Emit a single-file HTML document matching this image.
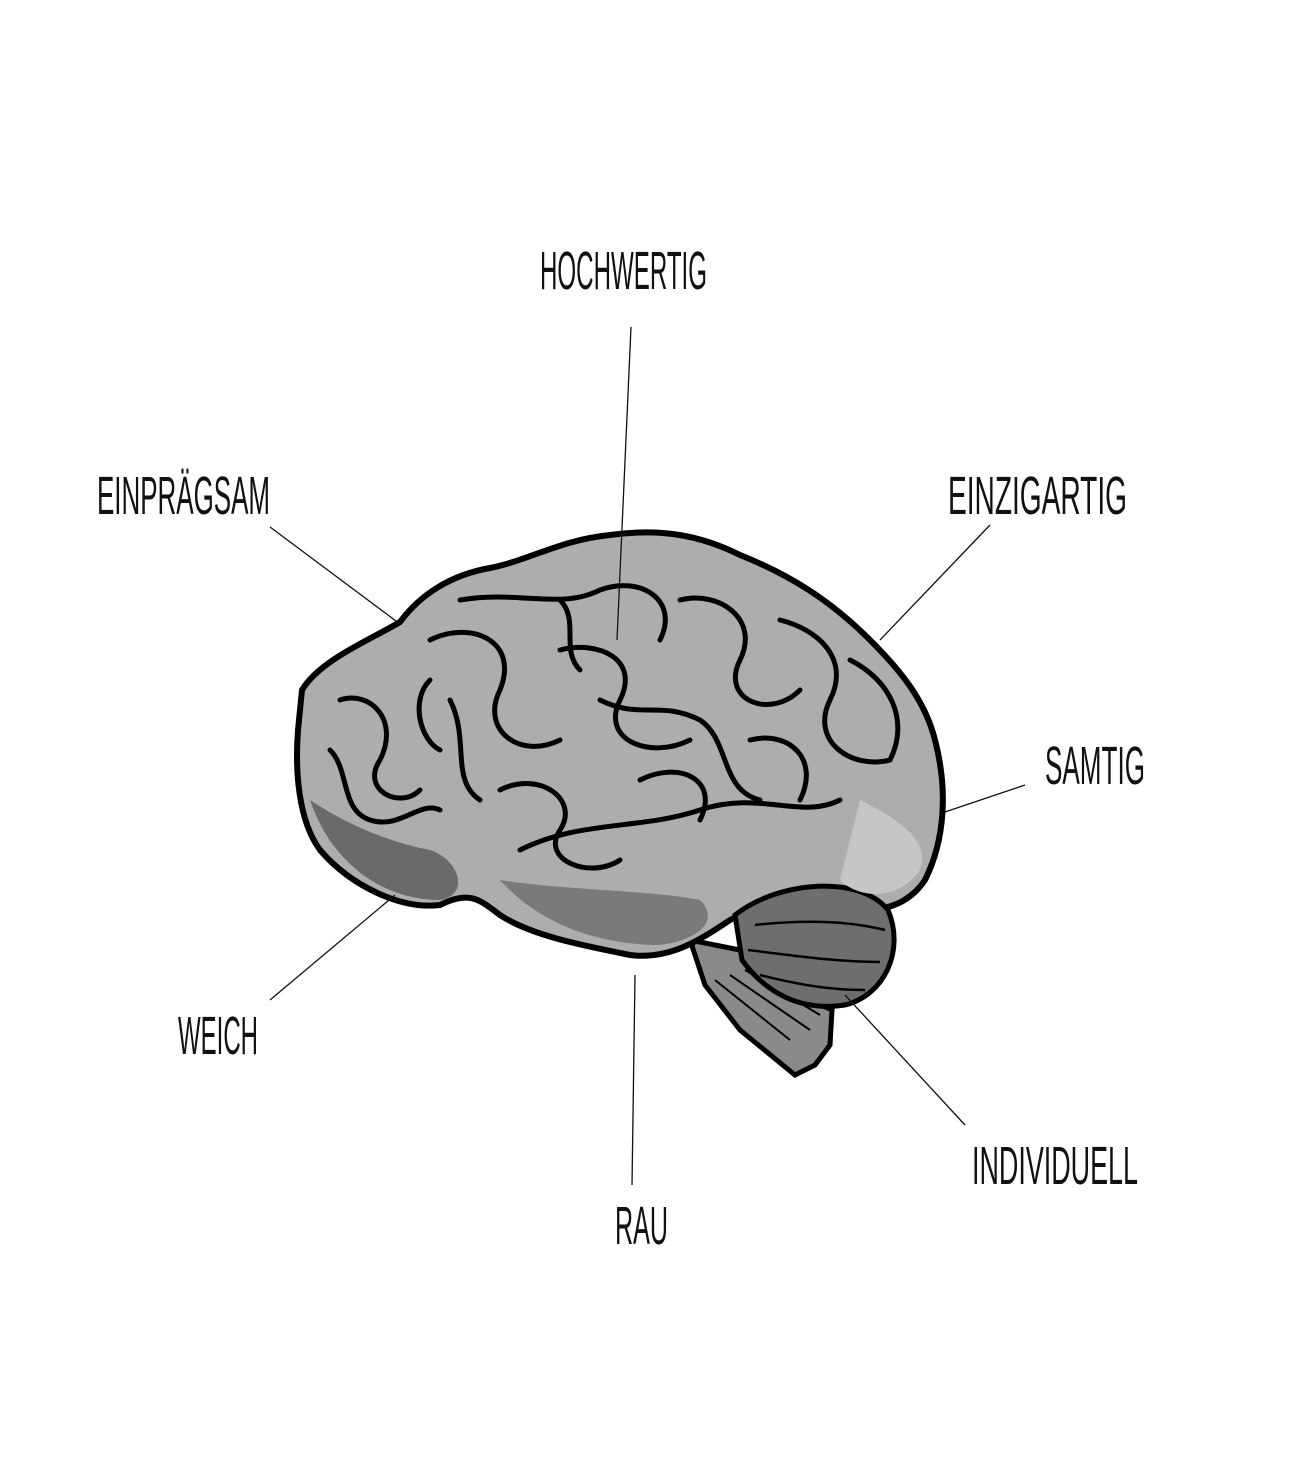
<!DOCTYPE html>
<html><head><meta charset="utf-8"><style>
html,body{margin:0;padding:0;background:#fff;}
svg{display:block;}
text{font-family:"Liberation Sans Narrow","Liberation Sans",sans-serif;font-size:54px;fill:#111;}
</style></head><body>
<svg width="1300" height="1479" viewBox="0 0 1300 1479" xmlns="http://www.w3.org/2000/svg">
<rect width="1300" height="1479" fill="#fff"/>
<!-- brain stem -->
<path d="M690,940 L705,985 L740,1030 L795,1075 L815,1065 L830,1045 L832,1010 L790,990 L740,950 Z" fill="#8a8a8a" stroke="#000" stroke-width="5"/>
<g fill="none" stroke="#000" stroke-width="2">
<path d="M715,980 L790,1040"/><path d="M730,975 L810,1030"/><path d="M745,970 L820,1015"/>
</g>
<!-- main cerebrum -->
<path d="M302,690 C320,660 370,640 400,622 C420,595 450,575 490,568 C530,560 560,540 610,535 C660,528 700,535 740,555 C790,575 830,600 870,640 C900,670 925,700 935,740 C948,790 945,840 925,880 C905,910 870,915 840,905 C800,895 760,905 730,920 C700,940 670,960 630,955 C580,945 530,935 500,915 C480,900 470,890 440,905 C400,910 350,885 320,850 C298,820 295,770 298,730 Z" fill="#adadad" stroke="#000" stroke-width="6"/>
<!-- cerebellum -->
<path d="M735,915 C780,880 860,875 888,910 C905,950 885,995 845,1005 C800,1012 765,992 742,960 Z" fill="#6e6e6e" stroke="#000" stroke-width="5"/>
<g fill="none" stroke="#000" stroke-width="2.5">
<path d="M755,925 C800,920 845,920 885,930"/><path d="M748,950 C790,955 835,962 880,962"/><path d="M760,975 C800,985 830,990 865,990"/>
</g>
<!-- darker shaded lower regions -->
<path d="M310,800 C330,860 380,900 440,900 C470,895 460,860 430,850 C380,840 340,820 310,800 Z" fill="#6a6a6a"/>
<path d="M500,880 C540,925 600,945 660,945 C700,940 720,920 700,900 C650,890 560,890 500,880 Z" fill="#7a7a7a"/>
<path d="M860,800 C900,820 930,840 920,870 C900,900 860,900 840,880 Z" fill="#c6c6c6"/>
<!-- gyri -->
<g fill="none" stroke="#000" stroke-width="5" stroke-linecap="round">
<path d="M340,700 C370,690 400,720 380,760 C360,790 400,810 420,790"/>
<path d="M430,640 C470,620 520,640 500,690 C480,730 520,760 560,740"/>
<path d="M460,600 C520,590 560,610 600,590 C640,575 680,600 660,640"/>
<path d="M560,650 C600,640 640,660 620,700 C600,740 650,760 690,740"/>
<path d="M680,600 C720,590 760,620 740,660 C720,700 770,720 800,690"/>
<path d="M780,620 C820,630 850,660 830,700 C810,740 850,770 890,760"/>
<path d="M850,660 C890,680 910,720 890,760"/>
<path d="M600,700 C640,720 660,700 700,720 C730,740 720,790 760,800"/>
<path d="M500,790 C540,770 580,800 560,830 C540,860 590,880 620,860"/>
<path d="M520,850 C580,820 640,830 700,810 C760,790 800,820 840,800"/>
<path d="M330,750 C350,770 340,810 370,820 C400,830 420,800 440,810"/>
<path d="M450,700 C470,740 450,780 480,800"/>
<path d="M640,780 C680,760 720,780 700,820"/>
<path d="M750,740 C790,730 820,760 800,800"/>
<path d="M430,680 C410,700 420,740 440,750"/>
<path d="M560,600 C580,620 560,650 580,670"/>
</g>
<!-- leader lines -->
<g stroke="#111" stroke-width="1.3">
<line x1="631" y1="327" x2="617" y2="640"/>
<line x1="270" y1="527" x2="400" y2="624"/>
<line x1="990" y1="525" x2="880" y2="640"/>
<line x1="1025" y1="785" x2="945" y2="812"/>
<line x1="270" y1="1000" x2="395" y2="895"/>
<line x1="632" y1="1185" x2="635" y2="975"/>
<line x1="965" y1="1125" x2="845" y2="995"/>
</g>
<!-- labels -->
<text x="540" y="289" textLength="167" lengthAdjust="spacingAndGlyphs">HOCHWERTIG</text>
<text x="97" y="514" textLength="173" lengthAdjust="spacingAndGlyphs">EINPRÄGSAM</text>
<text x="948" y="514" textLength="179" lengthAdjust="spacingAndGlyphs">EINZIGARTIG</text>
<text x="1045" y="784" textLength="100" lengthAdjust="spacingAndGlyphs">SAMTIG</text>
<text x="178" y="1054" textLength="80" lengthAdjust="spacingAndGlyphs">WEICH</text>
<text x="615" y="1244" textLength="53" lengthAdjust="spacingAndGlyphs">RAU</text>
<text x="972" y="1184" textLength="166" lengthAdjust="spacingAndGlyphs">INDIVIDUELL</text>
</svg>
</body></html>
